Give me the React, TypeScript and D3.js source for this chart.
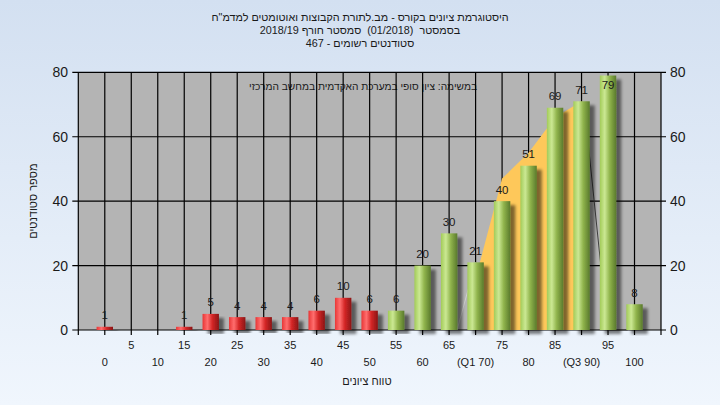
import React from 'react';
import * as d3 from 'd3';

const categories = [0, 5, 10, 15, 20, 25, 30, 35, 40, 45, 50, 55, 60, 65, 70, 75, 80, 85, 90, 95, 100];
const counts = [1, 0, 0, 1, 5, 4, 4, 4, 6, 10, 6, 6, 20, 30, 21, 40, 51, 69, 71, 79, 8];
const xTickLabels = ['0', '5', '10', '15', '20', '25', '30', '35', '40', '45', '50', '55', '60', '65', '(Q1 70)', '75', '80', '85', '(Q3 90)', '95', '100'];
const yTicks = [0, 20, 40, 60, 80];
const passThreshold = 55;
// interquartile band (orange area)
const iqrCats = [70, 75, 80, 85, 90];
const iqrVals = [16, 47, 55, 66, 71];
// outline segments of the band
const leftEdgeCats = [66.5, 70];
const leftEdgeVals = [0, 21];
const rightEdgeCats = [90.5, 94.9, 98.7];
const rightEdgeVals = [70, 0, 0];

const titleLines = [
  'היסטוגרמת ציונים בקורס - מב.לתורת הקבוצות ואוטומטים למדמ"ח',
  'בסמסטר  (01/2018)  סמסטר חורף 2018/19',
  'סטודנטים רשומים - 467',
];
const noteText = 'במשימה: ציון סופי במערכת האקדמית במחשב המרכזי';
const xTitle = 'טווח ציונים';
const yTitle = 'מספר סטודנטים';

const W = 720, H = 405;
const left = 78.3, right = 661, top = 72.3, bottom = 330;
const FONT = '"Liberation Sans", Arial, "DejaVu Sans", sans-serif';

export default function App() {
  const x = d3.scaleLinear().domain([-5, 105]).range([left, right]);
  const y = d3.scaleLinear().domain([0, 80]).range([bottom, top]);
  const step = x(5) - x(0);
  const barW = step * 0.62;

  const area = d3.area<number>()
    .x((_, i) => x(iqrCats[i]))
    .y0(() => y(0))
    .y1((d) => y(d));
  const line = d3.line<[number, number]>().x((d) => x(d[0])).y((d) => y(d[1]));

  const gridX = [-5, ...categories, 105];

  return (
    <div style={{ position: 'fixed', left: 0, top: 0 }}>
      <svg width={W} height={H} style={{ display: 'block', fontFamily: FONT }}>
        <defs>
          <linearGradient id="bg" x1="0" y1="0" x2="0" y2="1">
            <stop offset="0" stopColor="#d3e0f1" />
            <stop offset="1" stopColor="#f0f6fd" />
          </linearGradient>
          <linearGradient id="gGreen" x1="0" y1="0" x2="1" y2="0">
            <stop offset="0" stopColor="#a2cb58" />
            <stop offset="0.3" stopColor="#cbe893" />
            <stop offset="0.6" stopColor="#90b44c" />
            <stop offset="1" stopColor="#5a7a2c" />
          </linearGradient>
          <linearGradient id="gRed" x1="0" y1="0" x2="1" y2="0">
            <stop offset="0" stopColor="#e83636" />
            <stop offset="0.3" stopColor="#ff6e6e" />
            <stop offset="0.6" stopColor="#d42626" />
            <stop offset="1" stopColor="#8a1616" />
          </linearGradient>
          <filter id="shadow" x="-50%" y="-10%" width="200%" height="130%">
            <feGaussianBlur in="SourceAlpha" stdDeviation="1.6" />
            <feOffset dx="5" dy="4" result="o" />
            <feComponentTransfer>
              <feFuncA type="linear" slope="0.5" />
            </feComponentTransfer>
            <feMerge>
              <feMergeNode />
              <feMergeNode in="SourceGraphic" />
            </feMerge>
          </filter>
        </defs>
        <rect width={W} height={H} fill="url(#bg)" />

        {/* title */}
        {titleLines.map((t, i) => (
          <text key={i} x={360} y={21 + i * 13} textAnchor="middle" fontSize={10.8} fill="#1a1a1a" direction="rtl" style={{ whiteSpace: 'pre' }}>
            {t}
          </text>
        ))}

        {/* plot background */}
        <rect x={left} y={top} width={right - left} height={bottom - top} fill="#b4b4b4" />

        {/* note */}
        <text x={363} y={90} textAnchor="middle" fontSize={10.2} fill="#1a1a1a" direction="rtl">{noteText}</text>

        {/* grid */}
        {yTicks.map((t) => (
          <line key={'h' + t} x1={left - 6} x2={right + 5} y1={y(t)} y2={y(t)} stroke="#000" strokeWidth={1.2} />
        ))}
        {gridX.map((c) => (
          <line key={'v' + c} x1={x(c)} x2={x(c)} y1={top} y2={bottom + 5} stroke="#000" strokeWidth={1.2} />
        ))}

        {/* band */}
        <path d={area(iqrVals) || ''} fill="#fec85a" />
        <path d={line(leftEdgeCats.map((c, i) => [c, leftEdgeVals[i]] as [number, number])) || ''} fill="none" stroke="#cfcfcf" strokeWidth={1} />
        <path d={line(rightEdgeCats.map((c, i) => [c, rightEdgeVals[i]] as [number, number])) || ''} fill="none" stroke="#404040" strokeWidth={1} />

        {/* bars */}
        {categories.map((c, i) => {
          const v = counts[i];
          if (v <= 0) return null;
          return (
            <rect key={'b' + c} x={x(c) - barW / 2} y={y(v)} width={barW} height={y(0) - y(v)}
              fill={c < passThreshold ? 'url(#gRed)' : 'url(#gGreen)'} filter="url(#shadow)" />
          );
        })}

        {/* value labels */}
        {categories.map((c, i) => {
          const v = counts[i];
          if (v <= 0) return null;
          return (
            <text key={'l' + c} x={x(c)} y={Math.max(y(v) - 7.5, top + 17)} textAnchor="middle" fontSize={11.5} fill="#1a1a1a">{v}</text>
          );
        })}

        {/* x labels */}
        {categories.map((c, i) => (
          <text key={'x' + c} x={x(c)} y={i % 2 === 1 ? 349 : 366} textAnchor="middle" fontSize={11} fill="#1a1a1a">{xTickLabels[i]}</text>
        ))}

        {/* y labels */}
        {yTicks.map((t) => (
          <g key={'y' + t}>
            <text x={68} y={y(t) + 5} textAnchor="end" fontSize={14} fill="#1a1a1a">{t}</text>
            <text x={670} y={y(t) + 5} textAnchor="start" fontSize={14} fill="#1a1a1a">{t}</text>
          </g>
        ))}

        {/* axis titles */}
        <text x={367} y={385} textAnchor="middle" fontSize={11} fill="#1a1a1a" direction="rtl">{xTitle}</text>
        <text transform={`translate(37,${(top + bottom) / 2}) rotate(-90)`} textAnchor="middle" fontSize={11} fill="#1a1a1a" direction="rtl">{yTitle}</text>
      </svg>
    </div>
  );
}
